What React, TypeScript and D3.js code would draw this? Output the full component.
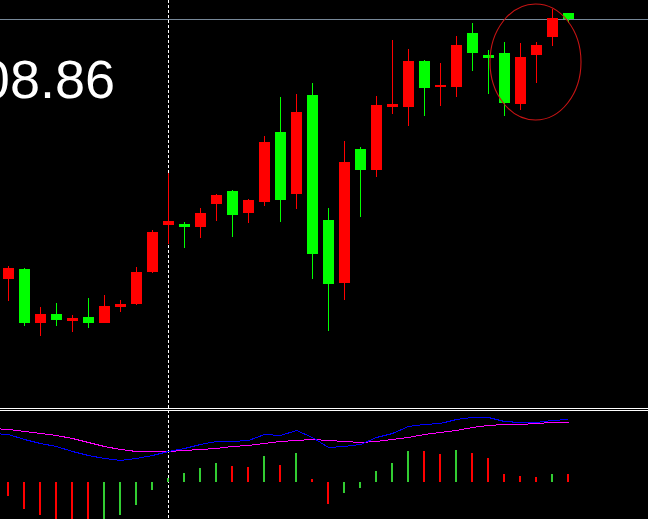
import React from "react";
import * as d3 from "d3";

// ---- Price panel data (36 visible candles) ----
const opens = [1306.26, 1306.36, 1305.82, 1305.91, 1305.84, 1305.88, 1305.82, 1305.98, 1306.01, 1306.33, 1306.80, 1306.81, 1306.78, 1307.01, 1307.14, 1306.92, 1307.03, 1307.73, 1307.11, 1308.10, 1306.85, 1306.22, 1307.56, 1307.35, 1307.98, 1307.98, 1308.44, 1308.18, 1308.18, 1308.72, 1308.50, 1308.52, 1308.01, 1308.50, 1308.68, 1308.92];
const highs = [1306.39, 1306.37, 1305.98, 1306.02, 1305.90, 1306.07, 1306.10, 1306.05, 1306.38, 1306.75, 1307.32, 1306.83, 1306.97, 1307.11, 1307.15, 1307.06, 1307.69, 1308.08, 1308.11, 1308.22, 1306.97, 1307.64, 1307.58, 1308.09, 1308.65, 1308.56, 1308.45, 1308.42, 1308.69, 1308.82, 1308.55, 1308.63, 1308.62, 1308.63, 1308.96, 1308.92];
const lows = [1306.04, 1305.79, 1305.69, 1305.79, 1305.73, 1305.77, 1305.82, 1305.93, 1306.00, 1306.32, 1306.61, 1306.57, 1306.67, 1306.84, 1306.68, 1306.82, 1306.99, 1306.83, 1306.96, 1306.26, 1305.74, 1306.05, 1306.88, 1307.28, 1307.91, 1307.79, 1307.89, 1307.99, 1308.08, 1308.34, 1308.11, 1307.89, 1307.95, 1308.22, 1308.59, 1308.82];
const closes = [1306.37, 1305.82, 1305.91, 1305.85, 1305.87, 1305.82, 1305.99, 1306.01, 1306.33, 1306.73, 1306.84, 1306.78, 1306.92, 1307.10, 1306.90, 1307.05, 1307.63, 1307.05, 1307.93, 1306.51, 1306.21, 1307.43, 1307.35, 1308.00, 1308.01, 1308.44, 1308.17, 1308.20, 1308.60, 1308.52, 1308.47, 1308.02, 1308.48, 1308.60, 1308.87, 1308.86];

const bidPrice = 1308.86;
const priceLabel = "1308.86";
const markedBar = 10; // index of the candle under the dashed vertical line

// ---- Indicator panel data (first value belongs to the bar just off-screen left) ----
const blueLine = [0.495, 0.485, 0.43, 0.393, 0.36, 0.31, 0.273, 0.243, 0.225, 0.237, 0.273, 0.313, 0.343, 0.377, 0.407, 0.407, 0.42, 0.477, 0.467, 0.52, 0.447, 0.347, 0.36, 0.385, 0.447, 0.493, 0.557, 0.577, 0.59, 0.627, 0.647, 0.647, 0.61, 0.597, 0.597, 0.617, 0.627];
const magentaLine = [0.54, 0.527, 0.513, 0.49, 0.467, 0.437, 0.403, 0.363, 0.333, 0.31, 0.31, 0.307, 0.32, 0.327, 0.343, 0.36, 0.373, 0.39, 0.407, 0.423, 0.427, 0.417, 0.407, 0.397, 0.407, 0.427, 0.447, 0.477, 0.497, 0.517, 0.547, 0.567, 0.577, 0.577, 0.587, 0.597, 0.597];
const histogram = [-0.05, -0.14, -0.27, -0.33, -0.39, -0.41, -0.42, -0.40, -0.33, -0.23, -0.08, 0.04, 0.09, 0.14, 0.19, 0.16, 0.15, 0.26, 0.17, 0.29, 0.03, -0.22, -0.11, -0.06, 0.11, 0.19, 0.312, 0.308, 0.28, 0.32, 0.29, 0.24, 0.08, 0.06, 0.05, 0.08, 0.078];

const W = 648;
const H = 519;

export default function App() {
  const x = d3.scaleLinear().domain([0, 35]).range([8, 568]);
  const yPrice = d3.scaleLinear().domain([1305, 1309]).range([405, 5]);
  const yOsc = d3.scaleLinear().domain([0, 1]).range([482, 382]);

  const up = "#ff0000";
  const down = "#00ff00";

  const candles = opens.map((o, i) => {
    const c = closes[i];
    const cx = Math.round(x(i));
    const top = Math.round(yPrice(Math.max(o, c)));
    const bot = Math.round(yPrice(Math.min(o, c)));
    const hi = Math.round(yPrice(highs[i]));
    const lo = Math.round(yPrice(lows[i]));
    const col = c > o ? up : down;
    return (
      <g key={i} fill={col}>
        <rect x={cx} y={hi} width={1} height={Math.max(1, lo - hi)} />
        <rect x={cx - 5} y={top} width={11} height={Math.max(2, bot - top)} />
      </g>
    );
  });

  const lineGen = d3
    .line<number>()
    .x((_, i) => x(i - 1) + 0.5)
    .y((d) => Math.round(yOsc(d)) + 0.5);

  const bars = histogram.map((v, i) => {
    if (i === 0) return null;
    const cx = Math.round(x(i - 1));
    const y0 = Math.round(yOsc(Math.max(v, 0)));
    const y1 = Math.round(yOsc(Math.min(v, 0)));
    const col = v > histogram[i - 1] ? "#32cd32" : "#ff0000";
    return <rect key={i} x={cx - 1} y={y0} width={2} height={Math.max(1, y1 - y0)} fill={col} />;
  });

  const bidY = Math.round(yPrice(bidPrice)) + 0.5;
  const vx = Math.round(x(markedBar)) + 0.5;

  return (
    <div style={{ position: "fixed", left: 0, top: 0, width: W, height: H }}>
      <svg width={W} height={H} style={{ display: "block", background: "#000" }}>
        <rect x={0} y={0} width={W} height={H} fill="#000" />
        {/* bid line */}
        <line x1={0} x2={W} y1={bidY} y2={bidY} stroke="#778899" strokeWidth={1} shapeRendering="crispEdges" />
        {/* big price label */}
        <text
          x={115}
          y={98}
          textAnchor="end"
          fill="#ffffff"
          fontFamily="'Liberation Sans', Arial, sans-serif"
          fontSize={54}
        >
          {priceLabel}
        </text>
        {/* separator */}
        <line x1={0} x2={W} y1={408.5} y2={408.5} stroke="#ffffff" strokeWidth={1} shapeRendering="crispEdges" />
        <line x1={0} x2={W} y1={410.5} y2={410.5} stroke="#ffffff" strokeWidth={1} shapeRendering="crispEdges" />
        {/* vertical dashed line */}
        <line x1={vx} x2={vx} y1={0} y2={H} stroke="#ffffff" strokeWidth={1} strokeDasharray="3,2" shapeRendering="crispEdges" />
        {/* indicator */}
        <g shapeRendering="crispEdges">{bars}</g>
        <path d={lineGen(magentaLine) || ""} fill="none" stroke="#ff00ff" strokeWidth={1} shapeRendering="crispEdges" />
        <path d={lineGen(blueLine) || ""} fill="none" stroke="#0000ff" strokeWidth={1} shapeRendering="crispEdges" />
        {/* candles */}
        <g shapeRendering="crispEdges">{candles}</g>
        {/* highlight ellipse */}
        <ellipse cx={535.5} cy={62} rx={45.5} ry={58} fill="none" stroke="#c81414" strokeWidth={1.1} />
      </svg>
    </div>
  );
}
